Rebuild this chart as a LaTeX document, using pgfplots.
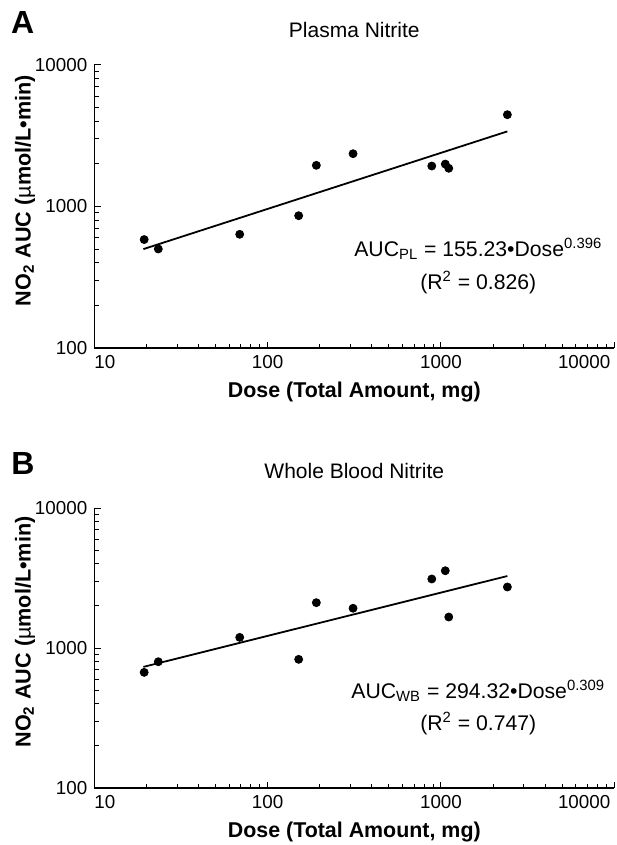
\documentclass[border=0pt]{standalone}
\usepackage{fontspec}
\setmainfont{Liberation Sans}
\usepackage{pgfplots}
\pgfplotsset{compat=1.18}

\pgfplotsset{every axis/.append style={
    scale only axis, width=260pt,
    xmin=10, xmax=10000, ymin=100, ymax=10000,
    axis x line*=bottom, axis y line*=left,
    axis line style={-, line width=0.75pt},
    xtick={10,100,1000,10000},
    xticklabels={\makebox[0pt][l]{10},100,1000,\makebox[0pt][r]{10000\hspace{2pt}}},
    minor xtick={20,30,40,50,60,70,80,90,200,300,400,500,600,700,800,900,
                 2000,3000,4000,5000,6000,7000,8000,9000},
    ytick={100,1000,10000},
    yticklabels={100,1000,10000},
    minor ytick={200,300,400,500,600,700,800,900,2000,3000,4000,5000,6000,7000,8000,9000},
    tick align=inside,
    major tick length=3.2pt, minor tick length=2.2pt,
    tick style={black, line width=0.5pt},
    ticklabel style={font=\fontsize{9.4}{11}\selectfont},
    /pgf/number format/assume math mode=true,
    xlabel={Dose (Total Amount, mg)},
    ylabel={NO\textsubscript{2} AUC (\textmd{µ}mol/L•min)},
    xlabel style={font=\fontsize{10.7}{12}\selectfont\bfseries,
                  at={(axis description cs:0.5,0)}, anchor=base, yshift=-24.65pt},
    ylabel style={font=\fontsize{10.8}{12}\selectfont\bfseries, anchor=center},
    title style={font=\fontsize{10.5}{12}\selectfont,
                 at={(axis description cs:0.5,1)}, anchor=base},
}}
\tikzset{eqn/.style={anchor=base, font=\fontsize{10.6}{12}\selectfont}}

\begin{document}
\begin{tikzpicture}
  \path[use as bounding box] (0,0) rectangle (308pt,-422.5pt);

  % panel A: plasma nitrite
  \node[anchor=base west, inner sep=0, font=\fontsize{16}{18}\selectfont\bfseries] at (5.3pt,-17pt) {A};
  \begin{axis}[xmode=log, ymode=log, at={(47.15pt,-174pt)}, anchor=south west, height=141.5pt,
      title={Plasma Nitrite}, title style={yshift=7.85pt},
      ylabel style={at={(axis description cs:-0.1333,0.556)}}]
    \addplot[only marks, mark=*, mark size=2pt, black]
      coordinates {(19.4,584) (23.4,501) (69,636) (151,861) (191,1954)
                   (311,2361) (885,1932) (1059,1995) (1109,1862) (2416,4454)};
    \addplot[black, line width=0.9pt] coordinates {(19.2,500) (2416,3395)};
    \node[eqn] at (axis description cs:0.7385,0.3226)
      {AUC\textsubscript{PL} = 155.23•Dose\textsuperscript{0.396}};
    \node[eqn] at (axis description cs:0.7385,0.2074) {(R\textsuperscript{2} = 0.826)};
  \end{axis}

  % panel B: whole blood nitrite
  \node[anchor=base west, inner sep=0, font=\fontsize{16}{18}\selectfont\bfseries] at (5.5pt,-237.15pt) {B};
  \begin{axis}[xmode=log, ymode=log, at={(47.15pt,-394pt)}, anchor=south west, height=140pt,
      title={Whole Blood Nitrite}, title style={yshift=8.65pt},
      ylabel style={at={(axis description cs:-0.1333,0.557)}}]
    \addplot[only marks, mark=*, mark size=2pt, black]
      coordinates {(19.4,670) (23.4,798) (69,1191) (151,830) (191,2108)
                   (311,1923) (885,3112) (1059,3565) (1109,1665) (2416,2728)};
    \addplot[black, line width=0.9pt] coordinates {(19.2,733) (2416,3267)};
    \node[eqn] at (axis description cs:0.7385,0.3204)
      {AUC\textsubscript{WB} = 294.32•Dose\textsuperscript{0.309}};
    \node[eqn] at (axis description cs:0.7385,0.207) {(R\textsuperscript{2} = 0.747)};
  \end{axis}
\end{tikzpicture}
\end{document}
